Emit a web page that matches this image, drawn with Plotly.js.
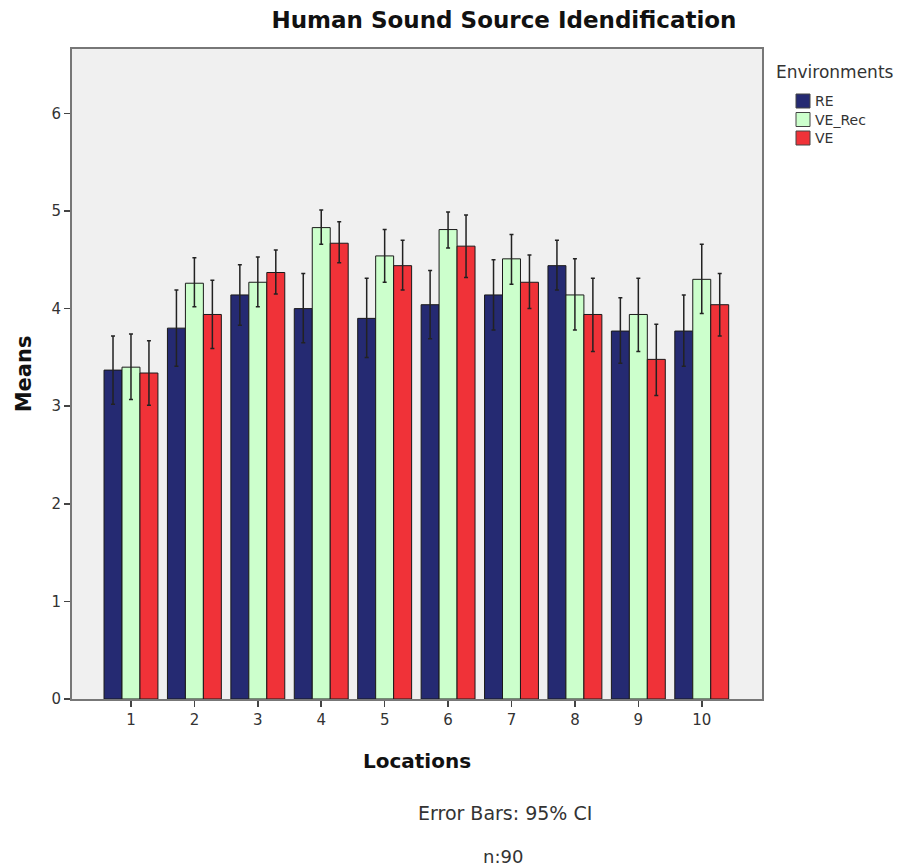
<!DOCTYPE html>
<html>
<head>
<meta charset="utf-8">
<script src="https://cdn.plot.ly/plotly-3.0.1.min.js"></script>
<style>html,body{margin:0;padding:0;background:#fff;}#chart{width:909px;height:867px;}</style>
</head>
<body>
<div id="chart"></div>
<script>
const locations = ["1","2","3","4","5","6","7","8","9","10"];
const seriesNames = ["RE", "VE_Rec", "VE"];

const reMeans   = [3.37, 3.80, 4.14, 4.00, 3.90, 4.04, 4.14, 4.44, 3.77, 3.77];
const reUpper   = [3.72, 4.19, 4.45, 4.36, 4.31, 4.39, 4.50, 4.70, 4.11, 4.14];
const reLower   = [3.02, 3.41, 3.83, 3.65, 3.50, 3.69, 3.78, 4.19, 3.44, 3.41];

const vrMeans   = [3.40, 4.26, 4.27, 4.83, 4.54, 4.81, 4.51, 4.14, 3.94, 4.30];
const vrUpper   = [3.74, 4.52, 4.53, 5.01, 4.81, 4.99, 4.76, 4.51, 4.31, 4.66];
const vrLower   = [3.07, 4.02, 4.02, 4.66, 4.27, 4.62, 4.25, 3.78, 3.56, 3.95];

const veMeans   = [3.34, 3.94, 4.37, 4.67, 4.44, 4.64, 4.27, 3.94, 3.48, 4.04];
const veUpper   = [3.67, 4.29, 4.60, 4.89, 4.70, 4.96, 4.55, 4.31, 3.84, 4.36];
const veLower   = [3.01, 3.59, 4.15, 4.47, 4.19, 4.32, 4.00, 3.56, 3.11, 3.72];

const yTicks = [0, 1, 2, 3, 4, 5, 6];

const colors = ['#252a72', '#ccffcc', '#f03238'];
const FONT = 'DejaVu Sans, Verdana, sans-serif';

function mk(name, means, up, lo, color) {
  return {
    type: 'bar', name: name, x: locations, y: means,
    marker: {color: color, line: {color: '#1a1a1a', width: 1}},
    error_y: {
      type: 'data', symmetric: false,
      array: up.map((u, i) => u - means[i]),
      arrayminus: lo.map((l, i) => means[i] - l),
      color: '#222', thickness: 1.5, width: 2
    }
  };
}

const data = [
  mk(seriesNames[0], reMeans, reUpper, reLower, colors[0]),
  mk(seriesNames[1], vrMeans, vrUpper, vrLower, colors[1]),
  mk(seriesNames[2], veMeans, veUpper, veLower, colors[2])
];

// plot area in pixels: left 72, right 762, top 49, bottom 699
const W = 690, H = 650, L = 72, B = 699;
const px = p => (p - L) / W;
const py = p => (B - p) / H;

const shapes = [];
const annotations = [
  {text: 'Environments', xref: 'paper', yref: 'paper', x: px(774), y: py(72),
   xanchor: 'left', yanchor: 'middle', showarrow: false, font: {family: FONT, size: 17, color: '#333'}},
  {text: 'Error Bars: 95% CI', xref: 'paper', yref: 'paper', x: px(505), y: py(813),
   xanchor: 'center', yanchor: 'middle', showarrow: false, font: {family: FONT, size: 19, color: '#333'}},
  {text: 'n:90', xref: 'paper', yref: 'paper', x: px(503), y: py(856),
   xanchor: 'center', yanchor: 'middle', showarrow: false, font: {family: FONT, size: 18, color: '#333'}}
];
seriesNames.forEach((n, i) => {
  const cy = 101 + i * 18.5;
  shapes.push({type: 'rect', xref: 'paper', yref: 'paper',
    x0: px(796), x1: px(810), y0: py(cy - 7), y1: py(cy + 7),
    fillcolor: colors[i], line: {color: '#444', width: 1}});
  annotations.push({text: n, xref: 'paper', yref: 'paper', x: px(813), y: py(cy),
    xanchor: 'left', yanchor: 'middle', showarrow: false, font: {family: FONT, size: 14, color: '#333'}});
});

const layout = {
  width: 909, height: 867,
  margin: {l: 72, r: 147, t: 49, b: 168},
  paper_bgcolor: '#ffffff',
  plot_bgcolor: '#f0f0f0',
  barmode: 'group',
  bargap: 0.15,
  bargroupgap: 0,
  showlegend: false,
  font: {family: FONT, color: '#333'},
  title: {
    text: 'Human Sound Source Idendification',
    font: {family: FONT, size: 23, color: '#111', weight: 'bold'},
    xref: 'container', x: 504 / 909, xanchor: 'center',
    yref: 'container', y: 1 - 20 / 867, yanchor: 'middle'
  },
  xaxis: {
    type: 'category',
    range: [-0.93, 9.95],
    showgrid: false,
    showline: true, mirror: true, linecolor: '#777', linewidth: 2,
    ticks: 'outside', ticklen: 6, tickcolor: '#444', tickwidth: 1.5,
    tickfont: {family: FONT, size: 15, color: '#333'},
    title: {text: 'Locations', font: {family: FONT, size: 20, color: '#111', weight: 'bold'}, standoff: 26}
  },
  yaxis: {
    range: [0, 6.66],
    tickvals: yTicks,
    showgrid: false, zeroline: false,
    showline: true, mirror: true, linecolor: '#777', linewidth: 2,
    ticks: 'outside', ticklen: 6, tickcolor: '#444', tickwidth: 1.5,
    tickfont: {family: FONT, size: 15, color: '#333'},
    title: {text: 'Means', font: {family: FONT, size: 21, color: '#111', weight: 'bold'}, standoff: 14}
  },
  shapes: shapes,
  annotations: annotations
};

Plotly.newPlot('chart', data, layout, {displayModeBar: false, staticPlot: true});
</script>
</body>
</html>
